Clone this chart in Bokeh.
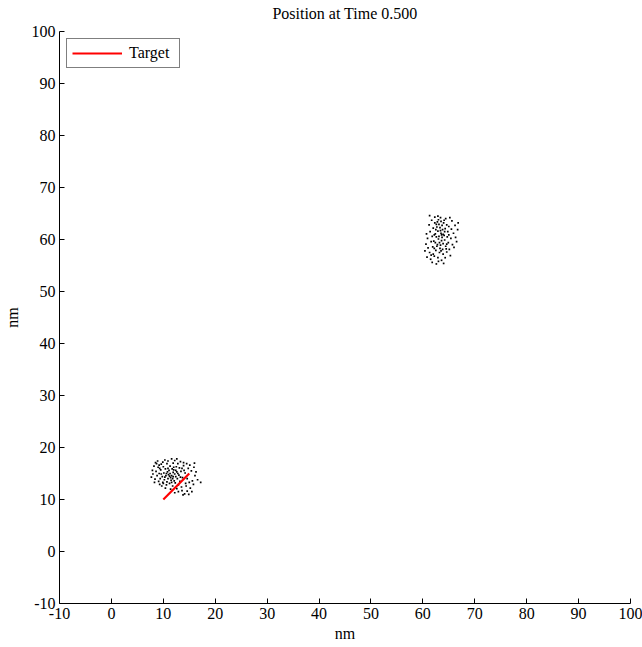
from bokeh.plotting import figure
from bokeh.models import Range1d, Legend, LegendItem, FixedTicker, Title
from bokeh.embed import file_html
from bokeh.resources import INLINE

# Particle positions (nm) around the first site
cloud_a_x = [11.0, 11.3, 11.6, 11.9, 12.2, 11.4, 11.8, 12.4, 10.8, 11.1, 12.0, 12.6, 10.5, 10.9, 11.5, 12.1,
             12.7, 13.0, 11.7, 10.4, 10.1, 9.8, 10.2, 10.7, 11.2, 12.3, 13.2, 13.4, 13.1, 12.5, 11.3, 10.0,
             9.5, 9.2, 9.4, 9.9, 10.6, 11.8, 12.9, 13.7, 14.0, 13.9, 12.8, 11.9, 10.7, 9.6, 9.0, 8.6,
             8.8, 8.4, 9.1, 9.7, 10.4, 11.4, 12.6, 13.5, 14.3, 14.6, 14.8, 15.1, 14.5, 13.3, 12.2, 10.9,
             9.9, 8.7, 8.2, 7.9, 8.0, 7.7, 8.3, 9.3, 15.4, 15.9, 16.3, 16.6, 15.8, 15.2, 14.6, 14.1,
             13.6, 14.9, 15.5, 13.8, 12.9, 12.2, 15.6, 16.1, 14.2, 13.6, 10.3, 11.9, 11.2, 12.4, 10.6, 12.8,
             11.6, 10.0, 9.6, 9.2, 8.5, 8.9, 11.6, 13.9, 16.0, 17.2, 15.0, 14.4, 13.3, 12.0, 10.9, 9.3,
             10.3, 12.6]
cloud_a_y = [14.8, 15.0, 14.6, 15.2, 14.9, 14.2, 14.0, 14.4, 15.3, 15.6, 15.7, 15.3, 14.6, 14.0, 13.7, 13.6,
             14.0, 14.7, 15.9, 15.9, 15.1, 14.4, 13.8, 13.4, 13.1, 13.2, 13.5, 15.4, 16.1, 16.3, 16.4, 16.3,
             15.7, 15.0, 14.0, 13.3, 12.8, 12.6, 12.8, 14.2, 15.6, 16.5, 16.9, 17.0, 16.9, 16.8, 16.2, 15.4,
             14.6, 13.9, 13.5, 12.6, 12.2, 12.0, 12.1, 12.4, 13.1, 14.0, 16.0, 16.6, 16.9, 17.3, 17.5, 17.4,
             17.2, 16.9, 16.4, 15.6, 14.9, 14.3, 13.3, 12.9, 15.5, 16.2, 15.3, 13.8, 12.9, 12.2, 11.6, 11.1,
             11.7, 11.0, 11.5, 10.9, 11.5, 11.3, 13.6, 14.6, 15.1, 16.0, 14.3, 14.4, 14.5, 15.6, 15.0, 15.0,
             13.3, 13.1, 14.9, 16.6, 17.1, 17.4, 17.8, 17.1, 17.0, 13.3, 13.3, 12.6, 14.3, 16.2, 16.0, 16.0,
             17.6, 17.8]

# Particle positions (nm) around the second site
cloud_b_x = [63.2, 63.6, 63.9, 63.4, 63.0, 64.2, 63.7, 62.8, 64.4, 63.3, 62.6, 64.1, 63.5, 62.9, 63.8, 63.3,
             63.7, 63.1, 64.0, 63.5, 62.7, 64.3, 62.4, 65.0, 63.0, 64.4, 62.3, 61.3, 65.6, 66.2, 66.7, 65.9,
             65.4, 65.7, 65.1, 64.6, 63.9, 63.2, 62.5, 61.9, 61.6, 61.8, 62.1, 62.2, 61.3, 60.8, 61.5, 62.2,
             62.9, 63.6, 64.3, 61.8, 62.6, 61.0, 60.9, 61.4, 62.0, 62.3, 64.8, 64.9, 64.5, 62.7, 63.8, 64.7,
             62.5, 63.9, 62.2, 66.3, 66.0, 65.3, 60.6, 61.2, 65.2, 66.8, 63.4, 62.0, 63.0, 64.0, 60.4, 64.6,
             62.8, 63.6, 63.1, 62.4, 64.6, 63.5, 65.0, 61.7, 62.9, 64.1, 65.5, 60.7, 61.6, 66.5, 63.4, 64.2,
             62.6]
cloud_b_y = [59.4, 59.8, 59.2, 58.9, 60.1, 59.9, 60.4, 59.0, 58.7, 58.3, 60.5, 60.8, 61.2, 61.6, 61.9, 62.3,
             62.7, 62.9, 63.2, 63.5, 62.4, 62.1, 61.1, 62.5, 63.8, 64.0, 64.3, 64.6, 63.6, 62.7, 61.9, 61.2,
             60.2, 59.0, 58.1, 57.6, 57.2, 57.5, 57.9, 58.6, 59.6, 60.6, 59.7, 58.3, 57.5, 56.6, 56.2, 56.8,
             56.5, 56.0, 56.5, 55.6, 55.3, 58.4, 60.2, 61.5, 62.2, 63.2, 61.5, 59.4, 58.2, 58.7, 58.1, 60.5,
             61.9, 61.0, 60.9, 60.4, 58.5, 56.9, 59.1, 62.8, 64.2, 63.2, 64.2, 57.2, 55.8, 55.4, 57.8, 62.8,
             63.4, 60.9, 60.6, 59.4, 59.1, 57.8, 60.9, 63.7, 64.5, 63.7, 62.0, 61.1, 57.0, 59.6, 61.7, 61.5,
             62.9]

# Target segment (nm)
target_x = [10, 15]
target_y = [10, 15]

axis_ticks = [-10, 0, 10, 20, 30, 40, 50, 60, 70, 80, 90, 100]
tick_labels = ["-10", "0", "10", "20", "30", "40", "50", "60", "70", "80", "90", "100"]
title_text = "Position at Time 0.500"

SERIF = "Liberation Serif"
FONT_SIZE = "16px"

p = figure(width=642, height=647, output_backend="svg", toolbar_location=None,
           x_range=Range1d(-10, 100), y_range=Range1d(-10, 100),
           min_border_left=58, min_border_right=12, min_border_top=31, min_border_bottom=44)

# A thin blank title row sits between the plot and the real title, lifting the title up
p.add_layout(Title(text=" ", text_font_size="6px", standoff=0), "above")
p.add_layout(Title(text=title_text, align="center", vertical_align="top", standoff=0,
                   text_font=SERIF, text_font_size=FONT_SIZE, text_font_style="normal",
                   text_color="black"), "above")

p.outline_line_color = None
p.background_fill_color = "white"
p.border_fill_color = "white"
p.xgrid.visible = False
p.ygrid.visible = False

for ax in (p.xaxis[0], p.yaxis[0]):
    ax.ticker = FixedTicker(ticks=axis_ticks)
    ax.major_label_overrides = {t: s for t, s in zip(axis_ticks, tick_labels)}
    ax.major_tick_in = 5
    ax.major_tick_out = 0
    ax.minor_tick_line_color = None
    ax.axis_line_color = "black"
    ax.major_tick_line_color = "black"
    ax.major_label_text_font = SERIF
    ax.major_label_text_font_size = FONT_SIZE
    ax.major_label_text_color = "black"
    ax.axis_label = "nm"
    ax.axis_label_text_font = SERIF
    ax.axis_label_text_font_size = FONT_SIZE
    ax.axis_label_text_font_style = "normal"
    ax.axis_label_text_color = "black"
    ax.major_label_standoff = 4

p.xaxis[0].axis_label_standoff = 3
p.yaxis[0].axis_label_standoff = 8

p.scatter(cloud_a_x, cloud_a_y, marker="square", size=1.7, color="black", line_width=0)
p.scatter(cloud_b_x, cloud_b_y, marker="square", size=1.7, color="black", line_width=0)

target = p.line(target_x, target_y, line_color="#ff0000", line_width=2.2)

legend = Legend(items=[LegendItem(label="Target", renderers=[target])],
                location="top_left", margin=7, padding=5, spacing=0,
                glyph_width=50, glyph_height=12, label_height=12, label_standoff=7,
                label_width=45,
                border_line_color="black", border_line_width=1,
                background_fill_color="white", background_fill_alpha=1.0,
                label_text_font=SERIF, label_text_font_size=FONT_SIZE, label_text_color="black")
p.add_layout(legend)

open("out.html", "w").write(file_html(p, INLINE))
